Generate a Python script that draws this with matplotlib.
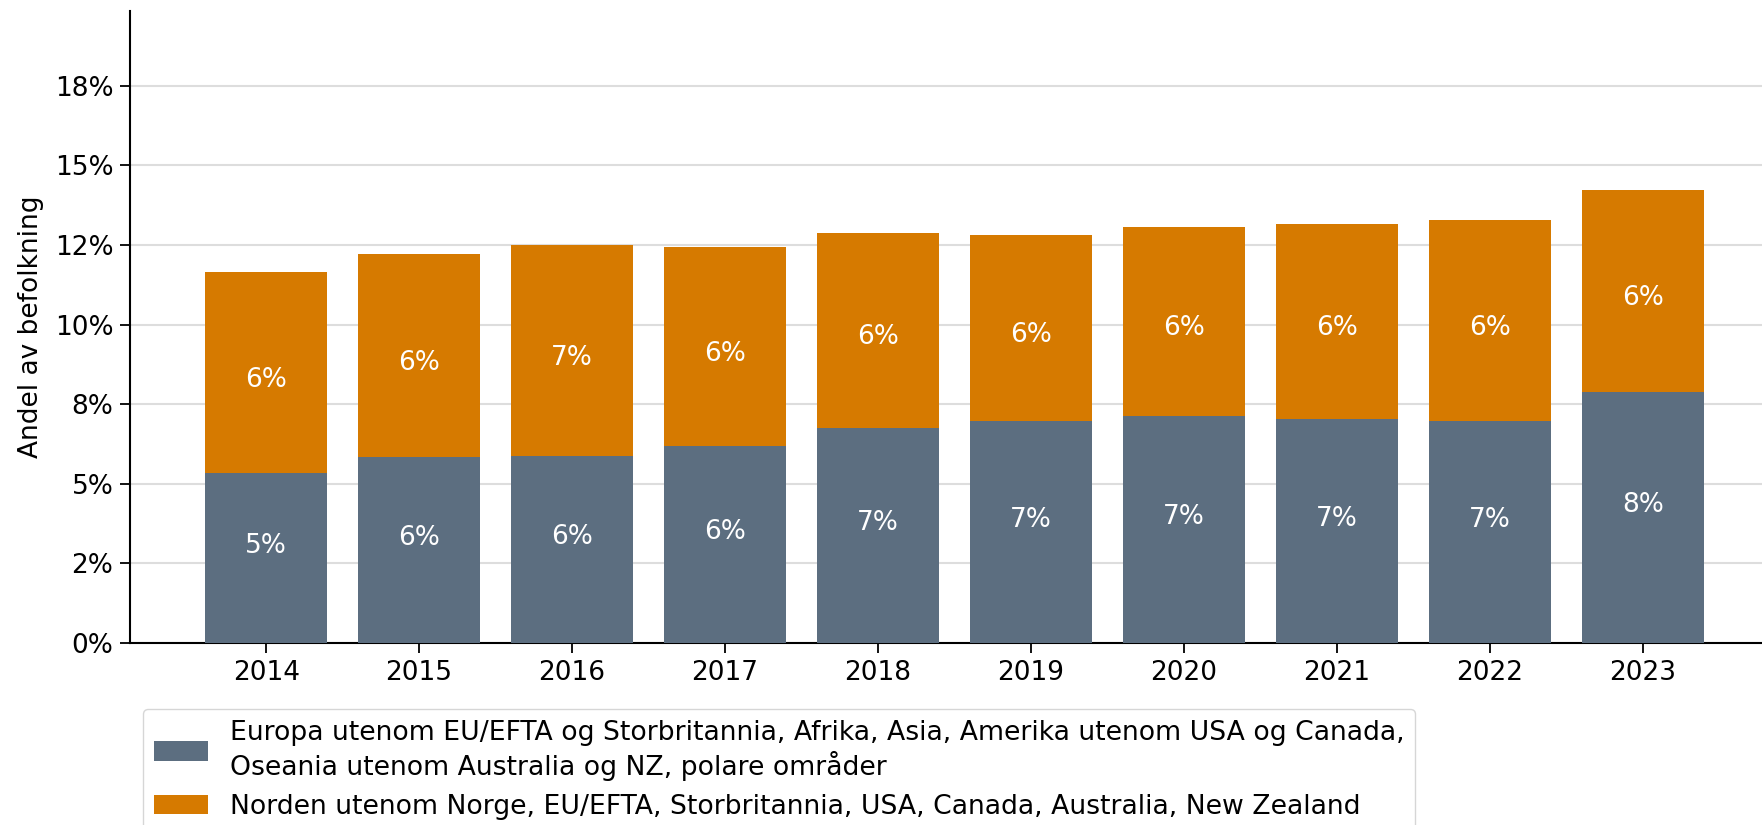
import numpy as np
import matplotlib.pyplot as plt
from matplotlib.ticker import FuncFormatter, MultipleLocator

years = ['2014', '2015', '2016', '2017', '2018', '2019', '2020', '2021', '2022', '2023']
# andel av befolkning, prosent
utenfor = [5.33, 5.83, 5.86, 6.18, 6.74, 6.96, 7.13, 7.03, 6.96, 7.87]
vestlig = [6.32, 6.39, 6.64, 6.25, 6.15, 5.86, 5.94, 6.14, 6.32, 6.36]
labels = [
    'Europa utenom EU/EFTA og Storbritannia, Afrika, Asia, Amerika utenom USA og Canada,\nOseania utenom Australia og NZ, polare områder',
    'Norden utenom Norge, EU/EFTA, Storbritannia, USA, Canada, Australia, New Zealand',
]

GREY = '#5c6e80'
ORANGE = '#d67a00'
FS = 19

fig = plt.figure(figsize=(17.62, 8.25), dpi=100)
ax = fig.add_axes([130 / 1762, 1 - 643 / 825, 1 - 130 / 1762, (643 - 11) / 825])

x = np.arange(len(years))
b1 = ax.bar(x, utenfor, width=0.8, color=GREY, label=labels[0], zorder=3)
b2 = ax.bar(x, vestlig, width=0.8, bottom=utenfor, color=ORANGE, label=labels[1], zorder=3)
ax.bar_label(b1, labels=['%.0f%%' % v for v in utenfor], label_type='center', color='white',
             fontsize=FS, padding=9)
ax.bar_label(b2, labels=['%.0f%%' % v for v in vestlig], label_type='center', color='white',
             fontsize=FS, padding=-5)

ax.set_xticks(x)
ax.set_xticklabels(years, fontsize=FS)
ax.set_xlim(-0.89, 9.78)
ax.set_ylim(0, 19.85)
ax.yaxis.set_major_locator(MultipleLocator(2.5))
ax.yaxis.set_major_formatter(FuncFormatter(lambda v, p: '{:.0f}%'.format(v)))
ax.tick_params(axis='y', labelsize=FS)
ax.tick_params(length=7, width=1.3, pad=5)
ax.set_ylabel('Andel av befolkning', fontsize=FS, labelpad=8)
ax.yaxis.grid(True, color='#dddddd', lw=1.5, zorder=0)
for s in ['top', 'right']:
    ax.spines[s].set_visible(False)
ax.spines['left'].set_linewidth(1.5)
ax.spines['bottom'].set_linewidth(1.5)

ax.legend(loc='upper left', bbox_to_anchor=(143 / 1762, 1 - 709 / 825), bbox_transform=fig.transFigure,
          fontsize=19.2, frameon=True, borderaxespad=0, handlelength=2.05, handleheight=0.75)

fig.savefig('out.png', dpi=100)
